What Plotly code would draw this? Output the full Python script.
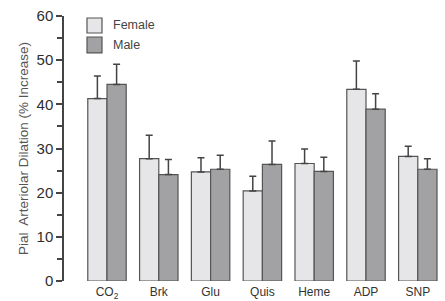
import plotly.graph_objects as go

categories = ["CO<sub>2</sub>", "Brk", "Glu", "Quis", "Heme", "ADP", "SNP"]
female = [41.3, 27.7, 24.7, 20.4, 26.6, 43.4, 28.2]
female_err = [5.1, 5.3, 3.2, 3.3, 3.3, 6.4, 2.3]
male = [44.5, 24.1, 25.3, 26.4, 24.8, 38.9, 25.3]
male_err = [4.6, 3.4, 3.2, 5.3, 3.2, 3.5, 2.4]
yticks = [0, 10, 20, 30, 40, 50, 60]

x = list(range(len(categories)))
outline = dict(color="#555555", width=1.2)

fig = go.Figure()
fig.add_trace(go.Bar(
    x=x, y=female, name="Female", marker=dict(color="#e6e6e8", line=outline),
    error_y=dict(type="data", array=female_err, arrayminus=[0]*len(female), symmetric=False,
                 color="#444444", thickness=1.5, width=3.5),
    showlegend=False))
fig.add_trace(go.Bar(
    x=x, y=male, name="Male", marker=dict(color="#a2a2a4", line=outline),
    error_y=dict(type="data", array=male_err, arrayminus=[0]*len(male), symmetric=False,
                 color="#444444", thickness=1.5, width=3.5),
    showlegend=False))

# custom legend
W, H = 445, 301
def px2paper_x(p):
    return (p - 64) / (W - 64)
def px2paper_y(p):
    return (281.3 - p) / (281.3 - 16)

legend_items = [("Female", "#e6e6e8", 18, 33), ("Male", "#a2a2a4", 37, 53)]
for label, color, y0, y1 in legend_items:
    fig.add_shape(type="rect", xref="paper", yref="paper",
                  x0=px2paper_x(87), x1=px2paper_x(102), y0=px2paper_y(y1), y1=px2paper_y(y0),
                  fillcolor=color, line=dict(color="#555555", width=1.2))
    fig.add_annotation(xref="paper", yref="paper", x=px2paper_x(111), y=px2paper_y((y0 + y1) / 2),
                       text=label, showarrow=False, xanchor="left", yanchor="middle",
                       font=dict(family="Liberation Sans, Arial", size=12.5, color="#444444"))

fig.update_layout(
    width=W, height=H,
    margin=dict(l=64, r=0, t=16, b=20),
    paper_bgcolor="white", plot_bgcolor="white",
    barmode="group", bargap=0.258, bargroupgap=0,
    font=dict(family="Liberation Sans, Arial", color="#333333"),
    xaxis=dict(range=[-0.83, 6.525], tickmode="array", tickvals=x, ticktext=categories,
               showline=False, showgrid=False, zeroline=False, ticks="",
               ticklabelstandoff=2,
               tickfont=dict(size=12, color="#333333")),
    yaxis=dict(range=[0, 60], tickmode="array", tickvals=yticks,
               showline=True, linecolor="#444444", linewidth=1.5,
               ticks="outside", ticklen=6, tickwidth=1.5, tickcolor="#444444",
               minor=dict(tickvals=[5, 15, 25, 35, 45, 55], ticks="outside", ticklen=5,
                          tickwidth=1.5, tickcolor="#444444"),
               showgrid=False, zeroline=False,
               tickfont=dict(size=15, color="#2e2e2e"),
               title=dict(text="Pial  Arteriolar Dilation (% Increase)",
                          font=dict(size=13.5, color="#555555"), standoff=5)),
)

fig.write_html("out.html", config={"displayModeBar": False},
               post_script="document.body.style.margin='0';")
